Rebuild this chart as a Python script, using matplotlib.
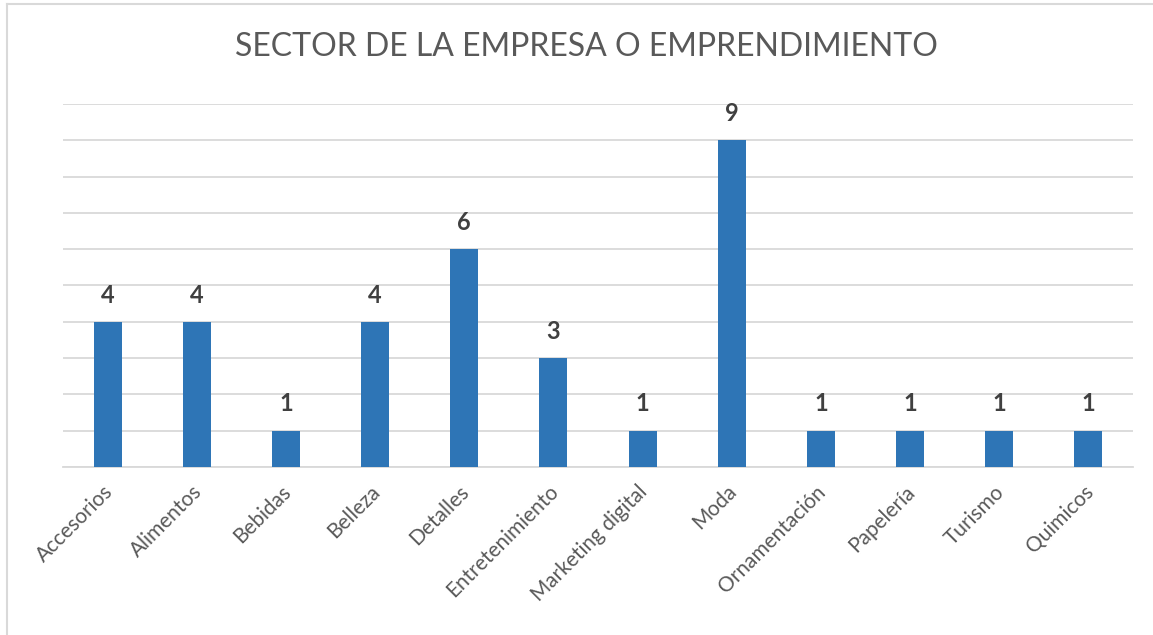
import matplotlib
matplotlib.use("Agg")
import matplotlib.pyplot as plt
import matplotlib.transforms as mtransforms
from matplotlib.lines import Line2D

categories = ["Accesorios", "Alimentos", "Bebidas", "Belleza", "Detalles",
              "Entretenimiento", "Marketing digital", "Moda", "Ornamentación",
              "Papelería", "Turismo", "Quimicos"]
values = [4, 4, 1, 4, 6, 3, 1, 9, 1, 1, 1, 1]
title = "SECTOR DE LA EMPRESA O EMPRENDIMIENTO"

plt.rcParams['font.family'] = ['Lato', 'DejaVu Sans']

fig = plt.figure(figsize=(11.53, 6.35), dpi=100)
ax = fig.add_axes([0.0546, 0.2646, 0.9281, 0.5716])

x = list(range(len(categories)))
bars = ax.bar(x, values, width=0.314, color="#2E75B6", zorder=3)
ax.set_xlim(-0.5, len(categories) - 0.5)
ax.set_ylim(0, 10)
ax.set_yticks(range(0, 11))
ax.yaxis.grid(True, color="#D9D9D9", linewidth=1.3, zorder=0)
ax.tick_params(axis='y', left=False, labelleft=False)
ax.tick_params(axis='x', bottom=False, pad=7)
for s in ["top", "right", "left"]:
    ax.spines[s].set_visible(False)
ax.spines["bottom"].set_color("#D9D9D9")
ax.spines["bottom"].set_linewidth(1.3)

ax.set_xticks(x)
ax.set_xticklabels(categories, rotation=45, ha="right", rotation_mode="anchor",
                   fontsize=15, color="#595959")
shift = mtransforms.ScaledTranslation(-5 / 100, 0, fig.dpi_scale_trans)
for lbl in ax.get_xticklabels():
    lbl.set_transform(lbl.get_transform() + shift)

for xi, v in zip(x, values):
    ax.annotate(str(v), (xi, v), xytext=(0, 11), textcoords="offset points",
                ha="center", va="bottom", fontsize=17, fontweight="bold",
                color="#404040")

fig.text(0.509, 0.926, title, ha="center", va="center", fontsize=23, color="#595959")

# partial border (left and top) as seen in reference
fig.add_artist(Line2D([0.0065, 0.0065], [0, 0.993], transform=fig.transFigure,
                      color="#D9D9D9", linewidth=1.5))
fig.add_artist(Line2D([0.0065, 1.0], [0.993, 0.993], transform=fig.transFigure,
                      color="#D9D9D9", linewidth=1.5))

fig.savefig("out.png", dpi=100, facecolor="white")
